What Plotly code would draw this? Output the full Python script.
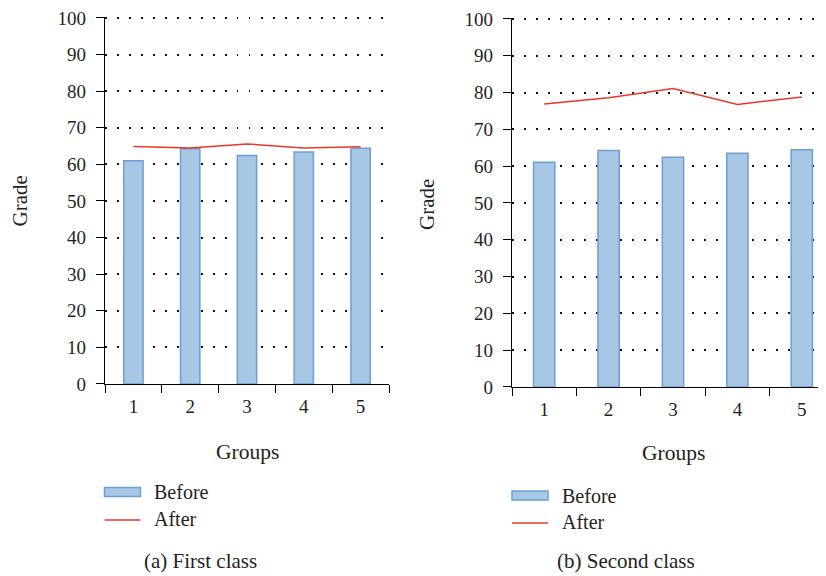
import plotly.graph_objects as go

groups = ["1", "2", "3", "4", "5"]
first_before = [61.0, 64.3, 62.4, 63.4, 64.4]
first_after = [64.9, 64.5, 65.6, 64.5, 64.8]
second_before = [61.1, 64.3, 62.4, 63.5, 64.5]
second_after = [76.9, 78.6, 81.1, 76.8, 78.8]
y_ticks = [0, 10, 20, 30, 40, 50, 60, 70, 80, 90, 100]

W, H = 826, 576
OFF = 8  # page body margin offset
FONT = "Liberation Serif"
TXT = "#231f20"
BAR_FILL = "#a7c7e5"
BAR_EDGE = "#6b9fd6"
RED = "#e8372c"
YTOP = 100.4  # tiny headroom so the 100 gridline is drawn


def px(x):
    return (x - OFF) / W


def py(y):
    return 1 - (y - OFF) / H


fig = go.Figure()

fig.add_trace(go.Bar(x=groups, y=first_before, width=0.34, marker=dict(color=BAR_FILL, line=dict(color=BAR_EDGE, width=1.5)),
                     xaxis="x", yaxis="y", showlegend=False))
fig.add_trace(go.Scatter(x=groups, y=first_after, mode="lines", line=dict(color=RED, width=1.5),
                         xaxis="x", yaxis="y", showlegend=False))
fig.add_trace(go.Bar(x=groups, y=second_before, width=0.33, marker=dict(color=BAR_FILL, line=dict(color=BAR_EDGE, width=1.5)),
                     xaxis="x2", yaxis="y2", showlegend=False))
fig.add_trace(go.Scatter(x=groups, y=second_after, mode="lines", line=dict(color=RED, width=1.5),
                         xaxis="x2", yaxis="y2", showlegend=False))


def xax(domain, rng, anchor):
    return dict(domain=domain, range=rng, anchor=anchor, type="category", automargin=False,
                tickson="boundaries", ticks="outside", ticklen=8, tickwidth=1.2, tickcolor="#000",
                showline=True, linecolor="#000", linewidth=1.2, showgrid=False, zeroline=False,
                ticklabeloverflow="allow",
                ticklabelstandoff=5, tickfont=dict(family=FONT, size=19, color=TXT), fixedrange=True)


def yax(domain, anchor):
    return dict(domain=domain, range=[0, YTOP], anchor=anchor, tickvals=y_ticks, automargin=False,
                ticks="outside", ticklen=8, tickwidth=1.2, tickcolor="#000",
                showline=True, linecolor="#000", linewidth=1.2,
                showgrid=True, gridcolor="#111", gridwidth=1.5, griddash="1.5px,10.5px",
                zeroline=False, ticklabelstandoff=6, ticklabeloverflow="allow",
                tickfont=dict(family=FONT, size=19, color=TXT), fixedrange=True)


x2_start = px(512)
x2_len_px = W * (1 - x2_start)


def ydomain(y0px, y100px):
    per = (y0px - y100px) / 100.0
    return [py(y0px), py(y0px - per * YTOP)]


fig.update_layout(
    width=W, height=H, margin=dict(l=0, r=0, t=0, b=0, autoexpand=False),
    paper_bgcolor="white", plot_bgcolor="white", showlegend=False, bargap=0.66,
    xaxis=xax([px(105), px(389)], [-0.5, 4.5], "y"),
    yaxis=yax(ydomain(384, 18), "x"),
    xaxis2=xax([x2_start, 1.0], [-0.5, -0.5 + x2_len_px / 64.4], "y2"),
    yaxis2=yax(ydomain(387, 19), "x2"),
)


def txt(x, y, s, size=20, angle=0, xanchor="center"):
    fig.add_annotation(x=px(x), y=py(y), xref="paper", yref="paper", text=s, showarrow=False,
                       font=dict(family=FONT, size=size, color=TXT), textangle=angle,
                       xanchor=xanchor, yanchor="middle")


# axis titles
txt(19.5, 201, "Grade", size=21, angle=-90)
txt(427, 204, "Grade", size=21, angle=-90)
txt(247, 452, "Groups", size=21.5)
txt(673, 453, "Groups", size=21.5)


# legends
def legend_full(x0, yb, ya, tx):
    fig.add_shape(type="rect", xref="paper", yref="paper", x0=px(x0), x1=px(x0 + 36),
                  y0=py(yb + 4.5), y1=py(yb - 4.5),
                  fillcolor=BAR_FILL, line=dict(color=BAR_EDGE, width=1.5))
    fig.add_shape(type="line", xref="paper", yref="paper", x0=px(x0), x1=px(x0 + 36),
                  y0=py(ya), y1=py(ya), line=dict(color=RED, width=1.5))
    txt(tx, yb, "Before", xanchor="left")
    txt(tx, ya - 1.5, "After", xanchor="left")


legend_full(104.5, 492, 520, 152)
legend_full(512, 495.5, 523, 560)

# captions
txt(200, 561, "(a) First class", size=21)
txt(626, 561, "(b) Second class", size=21)

fig.write_html("out.html")
